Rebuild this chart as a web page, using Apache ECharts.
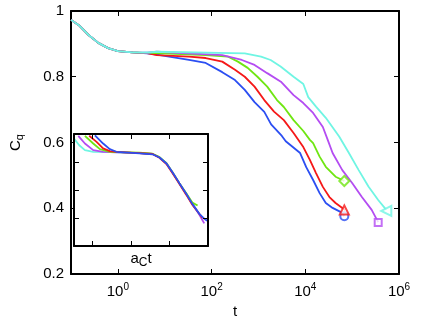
<!DOCTYPE html>
<html>
<head>
<meta charset="utf-8">
<script src="https://cdn.jsdelivr.net/npm/echarts@6/dist/echarts.min.js"></script>
<style>
html, body { margin: 0; padding: 0; background: #fff; }
#main { width: 436px; height: 328px; }
</style>
</head>
<body>
<div id="main"></div>
<script>
// main plot ticks
var mainXTicks = [1, 100, 10000, 1000000];
var insetXTicks = [0.01, 0.1, 1];

// main curves, [t, Cq]
var blue = [[0.1, 0.973], [0.147, 0.957], [0.237, 0.927], [0.383, 0.903], [0.619, 0.887], [1, 0.878], [2.05, 0.874], [4.22, 0.871],
    [6.8, 0.867], [33, 0.851], [75, 0.842], [169, 0.814], [316, 0.790], [511, 0.760], [826, 0.723], [1334, 0.693],
    [1866, 0.655], [3162, 0.620], [3828, 0.604], [7762, 0.568], [10470, 0.525], [14690, 0.486], [20230, 0.446],
    [27380, 0.416], [38280, 0.401], [56230, 0.389], [68080, 0.376]];
var red = [[0.1, 0.973], [0.147, 0.957], [0.237, 0.927], [0.383, 0.903], [0.619, 0.887], [1, 0.878], [2.05, 0.874], [4.22, 0.872],
    [6.8, 0.866], [33, 0.861], [75, 0.857], [169, 0.846], [316, 0.821], [511, 0.800], [826, 0.770], [1334, 0.729],
    [2153, 0.694], [3483, 0.668], [5623, 0.629], [9078, 0.586], [12530, 0.547], [16940, 0.507], [23710, 0.465],
    [32730, 0.434], [44260, 0.416], [61660, 0.401], [70790, 0.395]];
var green = [[0.1, 0.973], [0.147, 0.957], [0.237, 0.927], [0.383, 0.903], [0.619, 0.887], [1, 0.878], [2.05, 0.874], [4.22, 0.872],
    [6.8, 0.872], [75, 0.866], [226, 0.861], [365, 0.846], [590, 0.827], [953, 0.800], [1540, 0.770], [2489, 0.729],
    [3483, 0.708], [5623, 0.668], [9078, 0.635], [12530, 0.608], [14690, 0.598], [20230, 0.557], [27380, 0.526],
    [44260, 0.496], [68080, 0.483]];
var magenta = [[0.1, 0.973], [0.147, 0.957], [0.237, 0.927], [0.383, 0.903], [0.619, 0.887], [1, 0.878], [2.05, 0.874], [4.22, 0.873],
    [6.8, 0.876], [169, 0.866], [443, 0.851], [826, 0.836], [1540, 0.811], [3013, 0.785], [5623, 0.744], [9078, 0.720],
    [14690, 0.690], [23710, 0.647], [30130, 0.608], [38280, 0.568], [61660, 0.516], [100000, 0.477], [161400, 0.434],
    [261200, 0.395], [359700, 0.358]];
var cyan = [[0.1, 0.973], [0.147, 0.957], [0.237, 0.927], [0.383, 0.903], [0.619, 0.887], [1, 0.878], [2.05, 0.874], [4.22, 0.874],
    [6.8, 0.876], [511, 0.871], [1138, 0.861], [1820, 0.851], [2972, 0.831], [5623, 0.800], [9078, 0.778], [11550, 0.738],
    [16940, 0.709], [27380, 0.675], [52840, 0.618], [85310, 0.568], [138000, 0.516], [222800, 0.466], [359700, 0.425],
    [535800, 0.395]];

// end markers
var blueEnd = [[68080, 0.376]];
var redEnd = [[68080, 0.395]];
var greenEnd = [[68080, 0.483]];
var magentaEnd = [[359700, 0.357]];
var cyanEnd = [[535800, 0.392]];

// inset curves, [a_C t, Cq]
var insetCyan = [[0.00329, 0.967], [0.0045, 0.92], [0.00632, 0.885], [0.0104, 0.873], [0.028, 0.870], [0.167, 0.864],
    [0.361, 0.857], [0.548, 0.833], [0.832, 0.791], [1.19, 0.727], [1.80, 0.649], [2.74, 0.572], [3.91, 0.501], [5.93, 0.430], [7.2, 0.400]];
var insetMagenta = [[0.00425, 0.987], [0.00632, 0.932], [0.0104, 0.885], [0.0188, 0.872], [0.167, 0.864],
    [0.361, 0.857], [0.548, 0.833], [0.832, 0.791], [1.19, 0.727], [1.80, 0.649], [2.74, 0.572], [3.91, 0.501], [5.93, 0.425], [7.98, 0.362]];
var insetGreen = [[0.00632, 0.987], [0.0104, 0.932], [0.0155, 0.892], [0.028, 0.873], [0.167, 0.866],
    [0.361, 0.859], [0.548, 0.835], [0.832, 0.791], [1.19, 0.727], [1.80, 0.649], [2.74, 0.575], [3.91, 0.510], [5.36, 0.489]];
var insetRed = [[0.00817, 0.987], [0.0127, 0.944], [0.0188, 0.897], [0.028, 0.878], [0.0417, 0.872], [0.167, 0.864],
    [0.361, 0.857], [0.548, 0.830], [0.832, 0.785], [1.19, 0.722], [1.80, 0.645], [2.74, 0.565], [3.91, 0.495], [5.93, 0.430], [7.21, 0.400]];
var insetBlue = [[0.0115, 0.991], [0.0188, 0.932], [0.028, 0.892], [0.0417, 0.873], [0.167, 0.862],
    [0.361, 0.855], [0.548, 0.832], [0.832, 0.789], [1.19, 0.727], [1.80, 0.649], [2.74, 0.572], [3.91, 0.501], [5.93, 0.430], [7.98, 0.395], [9.55, 0.381]];

var colors = { blue: '#2b4ef2', red: '#f51818', green: '#6fe612', magenta: '#b44cf2', cyan: '#6ff5e3' };
var font = 'Liberation Sans, Arial, Helvetica, sans-serif';

function powLabel(v) {
    var e = Math.round(Math.log(v) / Math.LN10);
    return '10{sup|' + e + '}';
}

function boxAxis(extra) {
    var a = {
        axisLine: { show: true, onZero: false, lineStyle: { color: '#000', width: 2 } },
        axisTick: { show: true, inside: true, length: 5, lineStyle: { color: '#000', width: 1 } },
        axisLabel: { show: false },
        splitLine: { show: false }
    };
    for (var k in extra) {
        if (typeof extra[k] === 'object' && a[k] && !Array.isArray(extra[k])) {
            for (var j in extra[k]) a[k][j] = extra[k][j];
        } else {
            a[k] = extra[k];
        }
    }
    return a;
}

function lineSeries(data, color, xi, yi, z) {
    return {
        type: 'line', data: data, xAxisIndex: xi, yAxisIndex: yi,
        showSymbol: false, symbol: 'none', z: z,
        lineStyle: { color: color, width: 1.8 }
    };
}

function endSeries(data, color, symbol, size, rotate) {
    return {
        type: 'scatter', data: data, xAxisIndex: 0, yAxisIndex: 0, z: 5,
        symbol: symbol, symbolSize: size, symbolRotate: rotate || 0,
        itemStyle: { color: color, borderColor: color, borderWidth: 1.5 }
    };
}

var myChart = echarts.init(document.getElementById('main'));
var option = {
    animation: false,
    backgroundColor: '#fff',
    textStyle: { fontFamily: font },
    grid: [
        { left: 62, top: 11, right: 37, bottom: 54 },
        { left: 74, top: 134, width: 134, height: 112, show: true, backgroundColor: '#fff', borderWidth: 0, z: 10 }
    ],
    xAxis: [
        boxAxis({
            type: 'log', gridIndex: 0, min: 0.1, max: 1000000, position: 'bottom',
            axisTick: { customValues: mainXTicks },
            axisLabel: {
                show: true, customValues: mainXTicks, formatter: powLabel, color: '#000',
                fontSize: 15, fontFamily: font, margin: 8,
                rich: { sup: { fontSize: 10, fontFamily: font, color: '#000', padding: [0, 0, 9, 0] } }
            },
            name: 't', nameLocation: 'middle', nameGap: 29,
            nameTextStyle: { color: '#000', fontSize: 15, fontFamily: font }
        }),
        boxAxis({
            type: 'log', gridIndex: 0, min: 0.1, max: 1000000, position: 'top',
            axisTick: { customValues: mainXTicks }
        }),
        boxAxis({
            type: 'log', gridIndex: 1, min: 0.00329, max: 10, position: 'bottom', z: 12,
            axisTick: { customValues: insetXTicks },
            name: 'a{sub|C}t', nameLocation: 'middle', nameGap: 2,
            nameTextStyle: {
                color: '#000', fontSize: 15, fontFamily: font, verticalAlign: 'top',
                rich: { sub: { fontSize: 12, fontFamily: font, color: '#000', padding: [9, 0, 0, 0] } }
            }
        }),
        boxAxis({
            type: 'log', gridIndex: 1, min: 0.00329, max: 10, position: 'top', z: 12,
            axisTick: { customValues: insetXTicks }
        })
    ],
    yAxis: [
        boxAxis({
            type: 'value', gridIndex: 0, min: 0.2, max: 1, interval: 0.2, position: 'left',
            axisLabel: {
                show: true, color: '#000', fontSize: 15, fontFamily: font, margin: 7,
                formatter: function (v) { return v === 1 ? '1' : v.toFixed(1); }
            },
            name: 'C{sub|q}', nameLocation: 'middle', nameGap: 46, nameRotate: 90,
            nameTextStyle: {
                color: '#000', fontSize: 15, fontFamily: font,
                rich: { sub: { fontSize: 11, fontFamily: font, color: '#000', padding: [8, 0, 0, 0] } }
            }
        }),
        boxAxis({ type: 'value', gridIndex: 0, min: 0.2, max: 1, interval: 0.2, position: 'right' }),
        boxAxis({ type: 'value', gridIndex: 1, min: 0.2, max: 1, interval: 0.2, position: 'left', z: 12 }),
        boxAxis({ type: 'value', gridIndex: 1, min: 0.2, max: 1, interval: 0.2, position: 'right', z: 12 })
    ],
    series: [
        lineSeries(blue, colors.blue, 0, 0, 2),
        lineSeries(red, colors.red, 0, 0, 2),
        lineSeries(green, colors.green, 0, 0, 2),
        lineSeries(magenta, colors.magenta, 0, 0, 2),
        lineSeries(cyan, colors.cyan, 0, 0, 2),
        endSeries(blueEnd, colors.blue, 'emptyCircle', 8),
        endSeries(redEnd, colors.red, 'emptyTriangle', 9),
        endSeries(greenEnd, colors.green, 'emptyDiamond', 10),
        endSeries(magentaEnd, colors.magenta, 'emptyRect', 7),
        endSeries(cyanEnd, colors.cyan, 'emptyTriangle', 10, 90),
        lineSeries(insetCyan, colors.cyan, 2, 2, 11),
        lineSeries(insetMagenta, colors.magenta, 2, 2, 11),
        lineSeries(insetGreen, colors.green, 2, 2, 11),
        lineSeries(insetRed, colors.red, 2, 2, 11),
        lineSeries(insetBlue, colors.blue, 2, 2, 11)
    ]
};
myChart.setOption(option);
</script>
</body>
</html>
